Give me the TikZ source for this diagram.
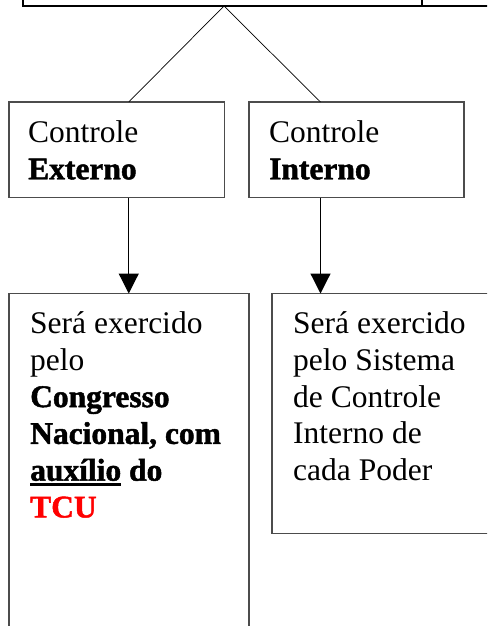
\documentclass[tikz,border=0pt]{standalone}
\usepackage{fontspec}
\setmainfont[BoldFeatures={FakeBold=1.5}]{Liberation Serif}
\usetikzlibrary{arrows.meta}
\newcommand\thickul[1]{\setbox0\hbox{#1}\rlap{\rule[-5.3pt]{\wd0}{2.5pt}}\box0\relax}
\tikzset{
    box/.style={draw=black!70, line width=1.3pt, inner sep=0pt, outer sep=0pt, anchor=north west},
    topbox/.style={box, draw=black, line width=2pt, anchor=south west},
    txt/.style={inner sep=0pt, anchor=north west, align=left, font=\fontsize{31.5}{36.8}\selectfont},
    conn/.style={line width=0.7pt},
    arr/.style={line width=1.2pt, -{Triangle[length=20pt,width=20pt]}},
}
\begin{document}
\begin{tikzpicture}[x=1pt,y=-1pt]
        \useasboundingbox (0,0) rectangle (487,626);
        \clip (0,0) rectangle (487,626);

        % Top boxes, cut off by the page
        \node[topbox, minimum width=399pt, minimum height=60pt] (top) at (23,6) {};
        \node[topbox, minimum width=120pt, minimum height=60pt] (topr) at (422,6) {};

        % Controle boxes
        \node[box, minimum width=215.5pt, minimum height=95.5pt] (ext) at (9,102) {};
        \node[box, minimum width=215pt, minimum height=95.5pt] (int) at (249,102) {};
        \node[txt] (extT) at ([xshift=19pt,yshift=-14.5pt]ext.north west) {\strut Controle\\\textbf{Externo}};
        \node[txt] (intT) at ([xshift=20pt,yshift=-14.5pt]int.north west) {\strut Controle\\\textbf{Interno}};

        % Lower boxes
        \node[box, minimum width=240pt, minimum height=400pt] (sr3) at (9,293.5) {};
        \node[box, minimum width=240pt, minimum height=240pt] (sr4) at (272,293.5) {};
        \node[txt] (sr3T) at ([xshift=21pt,yshift=-14pt]sr3.north west)
            {\strut Será exercido\\pelo\\\textbf{Congresso}\\\textbf{Nacional, com}\\\textbf{\thickul{auxílio} do}\\\textcolor{red}{\textbf{TCU}}};
        \node[txt] (sr4T) at ([xshift=21pt,yshift=-14pt]sr4.north west)
            {\strut Será exercido\\pelo Sistema\\de Controle\\Interno de\\cada Poder};

        % Connectors
        \draw[conn] ([xshift=1.5pt]top.south) -- ([xshift=12pt]ext.north);
        \draw[conn] ([xshift=1.5pt]top.south) -- ([xshift=-36pt]int.north);
        \draw[arr] ([xshift=12pt]ext.south) -- ([xshift=12pt]ext.south |- sr3.north);
        \draw[arr] ([xshift=-36pt]int.south) -- ([xshift=-36pt]int.south |- sr4.north);
\end{tikzpicture}
\end{document}
